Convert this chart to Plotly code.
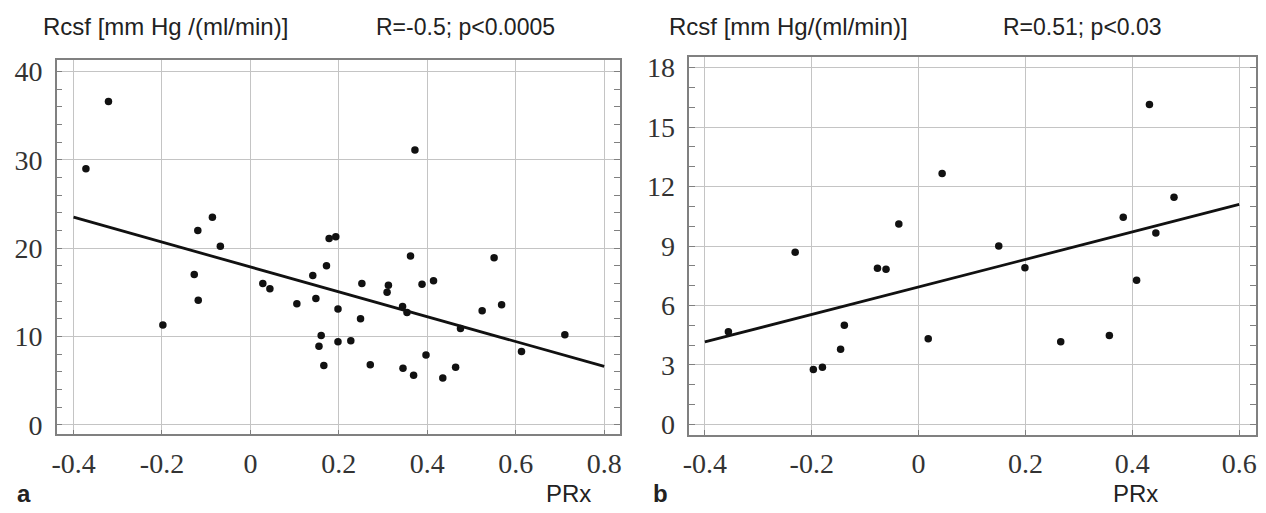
import plotly.graph_objects as go

# The page body adds an 8px margin, so the figure is laid out in page pixels minus 8.
OFF = 8
W, H = 1266 - OFF, 513 - OFF

# ---- data (panel a) ----
prx_a = [-0.372, -0.321, -0.198, -0.127, -0.119, -0.118, -0.086, -0.068, 0.028, 0.044,
         0.105, 0.141, 0.148, 0.155, 0.160, 0.166, 0.172, 0.178, 0.193, 0.198,
         0.198, 0.227, 0.249, 0.252, 0.271, 0.309, 0.312, 0.344, 0.345, 0.354,
         0.362, 0.369, 0.372, 0.388, 0.397, 0.414, 0.435, 0.464, 0.475, 0.524,
         0.551, 0.568, 0.613, 0.711]
rcsf_a = [29.0, 36.6, 11.3, 17.0, 22.0, 14.1, 23.5, 20.2, 16.0, 15.4,
          13.7, 16.9, 14.3, 8.9, 10.1, 6.7, 18.0, 21.1, 21.3, 13.1,
          9.4, 9.5, 12.0, 16.0, 6.8, 15.0, 15.8, 13.4, 6.4, 12.7,
          19.1, 5.6, 31.1, 15.9, 7.9, 16.3, 5.3, 6.5, 10.9, 12.9,
          18.9, 13.6, 8.3, 10.2]
fit_a_x = [-0.4, 0.8]
fit_a_y = [23.5, 6.6]

# ---- data (panel b) ----
prx_b = [-0.356, -0.231, -0.197, -0.180, -0.146, -0.139, -0.077, -0.061, -0.037, 0.018,
         0.044, 0.150, 0.199, 0.266, 0.357, 0.383, 0.408, 0.432, 0.444, 0.478]
rcsf_b = [4.67, 8.69, 2.77, 2.89, 3.79, 5.01, 7.88, 7.83, 10.11, 4.32,
          12.66, 9.0, 7.91, 4.17, 4.49, 10.45, 7.27, 16.14, 9.66, 11.46]
fit_b_x = [-0.4, 0.6]
fit_b_y = [4.16, 11.1]

xticks_a = [-0.4, -0.2, 0, 0.2, 0.4, 0.6, 0.8]
yticks_a = [0, 10, 20, 30, 40]
xticks_b = [-0.4, -0.2, 0, 0.2, 0.4, 0.6]
yticks_b = [0, 3, 6, 9, 12, 15, 18]

def fmt(v):
    return "0" if v == 0 else ("%g" % v)

def px(x):
    return (x - OFF) / W

def py(y):
    return 1 - (y - OFF) / H

fig = go.Figure()
fig.add_trace(go.Scatter(x=prx_a, y=rcsf_a, mode="markers", xaxis="x", yaxis="y",
                         marker=dict(color="#111", size=7.5), showlegend=False))
fig.add_trace(go.Scatter(x=fit_a_x, y=fit_a_y, mode="lines", xaxis="x", yaxis="y",
                         line=dict(color="#111", width=2.8), showlegend=False))
fig.add_trace(go.Scatter(x=prx_b, y=rcsf_b, mode="markers", xaxis="x2", yaxis="y2",
                         marker=dict(color="#111", size=7.5), showlegend=False))
fig.add_trace(go.Scatter(x=fit_b_x, y=fit_b_y, mode="lines", xaxis="x2", yaxis="y2",
                         line=dict(color="#111", width=2.8), showlegend=False))

tickfont = dict(family="Liberation Serif", size=28, color="#333")
frame = "#808080"
grid = "#c4c4c4"

def xax(dom, rng, ticks, anchor):
    return dict(domain=dom, range=rng, tickvals=ticks, ticktext=[fmt(t) for t in ticks],
                anchor=anchor, showline=True, linecolor=frame, linewidth=1.5, mirror=True,
                showgrid=True, gridcolor=grid, gridwidth=1.2, zeroline=False,
                ticks="inside", ticklen=5, tickcolor=frame, tickfont=tickfont,
                ticklabelstandoff=3)

def yax(dom, rng, ticks, anchor, minor):
    return dict(domain=dom, range=rng, tickvals=ticks, ticktext=[fmt(t) for t in ticks],
                anchor=anchor, showline=True, linecolor=frame, linewidth=1.5, mirror="ticks",
                showgrid=True, gridcolor=grid, gridwidth=1.2, zeroline=False,
                ticks="inside", ticklen=6, tickcolor=frame, tickfont=tickfont,
                ticklabelstandoff=7,
                minor=dict(dtick=minor, ticks="inside", ticklen=6, tickcolor=frame, showgrid=False))

fig.update_layout(
    width=W, height=H, margin=dict(l=0, r=0, t=0, b=0),
    paper_bgcolor="white", plot_bgcolor="white",
    xaxis=xax([px(50), px(617)], [-0.438, 0.836], xticks_a, "y"),
    yaxis=yax([py(439), py(57)], [-1.1, 41.3], yticks_a, "x", 2),
    xaxis2=xax([px(686.7), px(1256.7)], [-0.429, 0.631], xticks_b, "y2"),
    yaxis2=yax([py(439.3), py(54)], [-0.52, 18.53], yticks_b, "x2", 1),
)

sans = "Liberation Sans"
def ann(text, x, y, size=22, bold=False, xanchor="left"):
    fig.add_annotation(text=("<b>%s</b>" % text) if bold else text,
                       x=max(px(x), 0), y=py(y), xref="paper", yref="paper",
                       xanchor=xanchor, yanchor="middle", showarrow=False,
                       font=dict(family=sans, size=size, color="#222"))

ann("Rcsf [mm Hg /(ml/min)]", 34, 23, size=24)
ann("R=-0.5; p<0.0005", 369, 23, size=23)
ann("Rcsf [mm Hg/(ml/min)]", 664, 23, size=24)
ann("R=0.51; p<0.03", 1000, 23, size=23)
ann("a", 2, 499, size=24, bold=True)
ann("b", 648, 499, size=24, bold=True)
ann("PRx", 565, 499, size=24, xanchor="center")
ann("PRx", 1136, 499, size=24, xanchor="center")

fig.write_html("out.html")
